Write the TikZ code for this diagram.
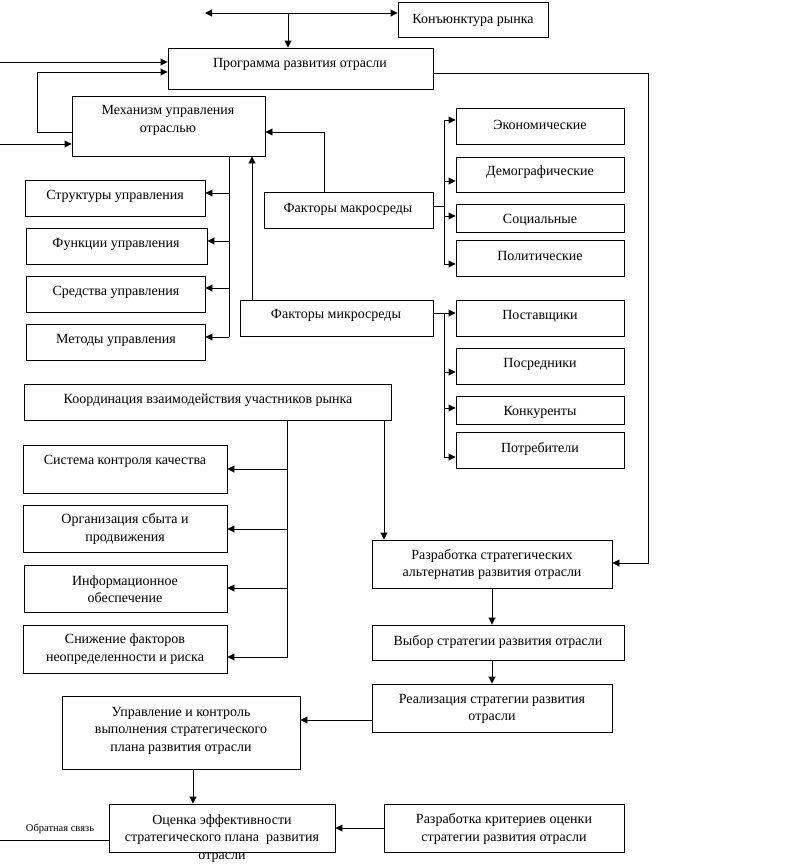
\documentclass[tikz,border=0pt]{standalone}
\usepackage{fontspec}
\setmainfont{Liberation Serif}
\usetikzlibrary{arrows.meta}
\tikzset{
 box/.style={draw, line width=0.9pt, inner sep=0pt},
 lbl/.style={font=\fontsize{14}{17.5}\selectfont, align=center, inner sep=0pt},
 small/.style={font=\fontsize{10.5}{12}\selectfont, inner sep=0pt},
 con/.style={line width=0.9pt},
 arr/.style={con, -{Triangle[length=7pt,width=7pt]}},
 darr/.style={con, {Triangle[length=7pt,width=7pt]}-{Triangle[length=7pt,width=7pt]}},
}
\newcommand\bx[5]{\node[box, minimum width={(#4-#2)*1pt}, minimum height={(#5-#3)*1pt}] (#1) at ({(#2+#4)/2},{(#3+#5)/2}) {};}
\newcommand\tx[4]{\node[lbl] (#1) at (#2,{#3+2}) {#4};}
\begin{document}
\begin{tikzpicture}[x=1pt,y=-1pt]
\useasboundingbox (0,0) rectangle (795,865);
% boxes
\bx{kon}{398}{2}{548}{37}
\bx{prog}{168}{48}{433}{89}
\bx{mech}{72}{96}{265}{156}
\bx{econ}{456}{108}{624}{144}
\bx{demo}{456}{157}{624}{192}
\bx{soc}{456}{204}{624}{232}
\bx{pol}{456}{240}{624}{276}
\bx{macro}{264}{192}{433}{228}
\bx{struct}{25}{180}{205}{216}
\bx{func}{26}{228}{207}{264}
\bx{sred}{26}{276}{205}{312}
\bx{meth}{26}{324}{205}{360}
\bx{micro}{240}{300}{433}{336}
\bx{post}{456}{300}{624}{336}
\bx{posr}{456}{348}{624}{384}
\bx{konk}{456}{396}{624}{424}
\bx{potr}{456}{432}{624}{468}
\bx{coord}{24}{384}{391}{420}
\bx{sys}{23}{445}{227}{493}
\bx{org}{23}{505}{227}{552}
\bx{info}{24}{565}{227}{612}
\bx{risk}{23}{625}{227}{673}
\bx{razr}{372}{540}{612}{588}
\bx{vyb}{372}{625}{624}{660}
\bx{real}{372}{684}{612}{732}
\bx{upr}{62}{696}{300}{769}
\bx{ocen}{109}{804}{335}{852}
\bx{krit}{384}{804}{624}{852}
% texts
\tx{tkon}{473}{18}{Конъюнктура рынка}
\tx{tprog}{300}{62}{Программа развития отрасли}
\tx{tmech}{168}{118.5}{Механизм управления\\отраслью}
\tx{tecon}{540}{123}{Экономические}
\tx{tdemo}{540}{170}{Демографические}
\tx{tsoc}{540}{218}{Социальные}
\tx{tpol}{540}{254}{Политические}
\tx{tmacro}{348}{207}{Факторы макросреды}
\tx{tstruct}{115}{194}{Структуры управления}
\tx{tfunc}{116}{242}{Функции управления}
\tx{tsred}{116}{290}{Средства управления}
\tx{tmeth}{116}{338}{Методы управления}
\tx{tmicro}{336}{313}{Факторы микросреды}
\tx{tpost}{540}{314}{Поставщики}
\tx{tposr}{540}{362}{Посредники}
\tx{tkonk}{540}{410}{Конкуренты}
\tx{tpotr}{540}{447}{Потребители}
\tx{tcoord}{208}{398}{Координация взаимодействия участников рынка}
\tx{tsys}{125}{459}{Система контроля качества}
\tx{torg}{125}{527}{Организация сбыта и\\продвижения}
\tx{tinfo}{125}{587}{Информационное\\обеспечение}
\tx{trisk}{125}{647}{Снижение факторов\\неопределенности и риска}
\tx{trazr}{492}{562.5}{Разработка стратегических\\альтернатив развития отрасли}
\tx{tvyb}{498}{640}{Выбор стратегии развития отрасли}
\tx{treal}{492}{707}{Реализация стратегии развития\\отрасли}
\tx{tupr}{181}{728.5}{Управление и контроль\\выполнения стратегического\\плана развития отрасли}
\tx{tocen}{222}{836.5}{Оценка эффективности\\стратегического плана\ \ развития\\отрасли}
\tx{tkrit}{504}{827}{Разработка критериев оценки\\стратегии развития отрасли}
\node[small] (tfb) at (60,829) {Обратная связь};
% free ends
\coordinate (tl) at (205,13);
\coordinate (j1) at (288,13);
\coordinate (l1) at (0,62);
\coordinate (l2) at (0,144);
\coordinate (fb) at (0,840);
% connectors
\draw[darr] (tl) -- (tl -| kon.west);
\draw[arr] (j1) -- (j1 |- prog.north);
\draw[arr] (l1) -- (l1 -| prog.west);
\draw[arr] (l2) -- (l2 -| mech.west);
\draw[arr] (mech.west |- 0,132) -- (37,132) -- (37,72) -- (prog.west |- 0,72);
\draw[arr] (macro.north -| 324,0) -- (324,132) -- (mech.east |- 0,132);
\draw[arr] (prog.east |- 0,73) -- (648,73) -- (648,563) -- (razr.east |- 0,563);
% macro bus
\draw[con] (macro.east |- 0,206) -- (444,206);
\draw[con] (444,120) -- (444,264);
\draw[arr] (444,120) -- (econ.west |- 0,120);
\draw[arr] (444,181) -- (demo.west |- 0,181);
\draw[arr] (444,216) -- (soc.west |- 0,216);
\draw[arr] (444,264) -- (pol.west |- 0,264);
% micro bus
\draw[arr] (micro.east |- 0,313) -- (post.west |- 0,313);
\draw[con] (444,313) -- (444,457);
\draw[arr] (444,372) -- (posr.west |- 0,372);
\draw[arr] (444,408) -- (konk.west |- 0,408);
\draw[arr] (444,457) -- (potr.west |- 0,457);
\draw[arr] (micro.north -| 252,0) -- (mech.south -| 252,0);
% mech bus
\draw[con] (mech.south -| 229,0) -- (229,337);
\draw[arr] (229,193) -- (struct.east |- 0,193);
\draw[arr] (229,241) -- (func.east |- 0,241);
\draw[arr] (229,288) -- (sred.east |- 0,288);
\draw[arr] (229,337) -- (meth.east |- 0,337);
% coord bus
\draw[con] (coord.south -| 287,0) -- (287,658);
\draw[arr] (287,469) -- (sys.east |- 0,469);
\draw[arr] (287,529) -- (org.east |- 0,529);
\draw[arr] (287,588) -- (info.east |- 0,588);
\draw[arr] (287,657) -- (risk.east |- 0,657);
\draw[arr] (coord.south -| 384,0) -- (razr.north -| 384,0);
% chain
\draw[arr] (razr.south) -- (razr.south |- vyb.north);
\draw[arr] (razr.south |- vyb.south) -- (razr.south |- real.north);
\draw[arr] (real.west |- 0,720) -- (upr.east |- 0,720);
\draw[arr] (upr.south -| 193,0) -- (ocen.north -| 193,0);
\draw[arr] (krit.west |- 0,828) -- (ocen.east |- 0,828);
\draw[con] (ocen.west |- 0,840) -- (fb);
\end{tikzpicture}
\end{document}
